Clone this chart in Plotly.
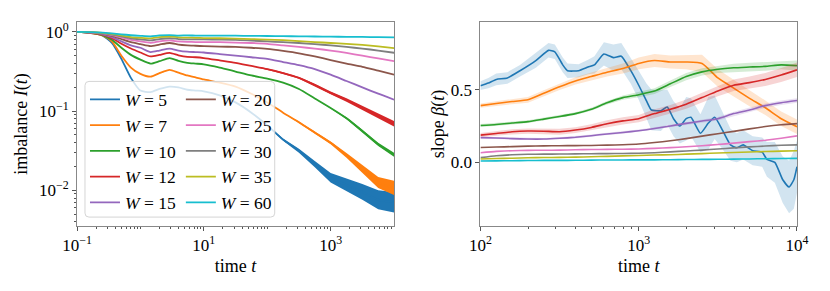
import numpy as np
import plotly.graph_objects as go

# ---------------- data ----------------
W_values = [5, 7, 10, 12, 15, 20, 25, 30, 35, 60]
colors = ['#1f77b4', '#ff7f0e', '#2ca02c', '#d62728', '#9467bd',
          '#8c564b', '#e377c2', '#7f7f7f', '#bcbd22', '#17becf']

# left panel: log10(t) grid and log10(I) for each W
log_t_imb = [-1, -0.8, -0.6, -0.45, -0.3, -0.15, 0, 0.16, 0.3, 0.46, 0.6, 0.74, 0.87,
             1.0, 1.25, 1.5, 1.75, 2.0, 2.25, 2.5, 2.75, 3.0, 3.25, 3.5, 3.75, 4.0]
logI_W5 = [0, -0.012, -0.045, -0.14, -0.34, -0.58, -0.74, -0.76, -0.72, -0.69, -0.70, -0.73, -0.74,
           -0.75, -0.80, -0.89, -1.02, -1.18, -1.36, -1.50, -1.67, -1.84, -1.93, -2.02, -2.12, -2.15]
logI_W7 = [0, -0.012, -0.045, -0.12, -0.30, -0.45, -0.53, -0.565, -0.52, -0.48, -0.515, -0.55, -0.575,
           -0.60, -0.64, -0.69, -0.78, -0.89, -1.02, -1.14, -1.27, -1.40, -1.56, -1.73, -1.90, -1.97]
logI_W10 = [0, -0.01, -0.04, -0.10, -0.20, -0.29, -0.35, -0.40, -0.37, -0.33, -0.365, -0.39, -0.40,
            -0.41, -0.45, -0.50, -0.55, -0.59, -0.64, -0.72, -0.84, -0.96, -1.09, -1.25, -1.42, -1.55]
logI_W12 = [0, -0.008, -0.035, -0.08, -0.15, -0.21, -0.26, -0.31, -0.29, -0.265, -0.295, -0.315, -0.32,
            -0.33, -0.36, -0.39, -0.43, -0.47, -0.52, -0.58, -0.67, -0.77, -0.86, -0.96, -1.06, -1.16]
logI_W15 = [0, -0.007, -0.03, -0.065, -0.12, -0.17, -0.20, -0.255, -0.235, -0.21, -0.235, -0.25, -0.255,
            -0.26, -0.28, -0.30, -0.32, -0.34, -0.38, -0.42, -0.47, -0.54, -0.62, -0.70, -0.78, -0.855]
logI_W20 = [0, -0.006, -0.022, -0.05, -0.09, -0.13, -0.155, -0.18, -0.16, -0.14, -0.16, -0.17, -0.175,
            -0.18, -0.185, -0.19, -0.20, -0.215, -0.24, -0.27, -0.31, -0.355, -0.40, -0.44, -0.49, -0.54]
logI_W25 = [0, -0.005, -0.018, -0.04, -0.07, -0.10, -0.12, -0.138, -0.12, -0.108, -0.12, -0.125, -0.128,
            -0.13, -0.13, -0.135, -0.14, -0.15, -0.17, -0.19, -0.21, -0.235, -0.265, -0.30, -0.335, -0.37]
logI_W30 = [0, -0.004, -0.015, -0.033, -0.055, -0.08, -0.095, -0.108, -0.09, -0.08, -0.09, -0.095, -0.095,
            -0.095, -0.097, -0.10, -0.11, -0.12, -0.13, -0.14, -0.155, -0.17, -0.19, -0.21, -0.235, -0.263]
logI_W35 = [0, -0.003, -0.012, -0.026, -0.045, -0.065, -0.075, -0.082, -0.065, -0.058, -0.068, -0.072, -0.075,
            -0.078, -0.08, -0.085, -0.09, -0.097, -0.105, -0.117, -0.128, -0.14, -0.152, -0.165, -0.183, -0.205]
logI_W60 = [0, -0.002, -0.008, -0.018, -0.03, -0.042, -0.05, -0.056, -0.045, -0.04, -0.046, -0.044, -0.046,
            -0.046, -0.047, -0.048, -0.05, -0.052, -0.054, -0.056, -0.058, -0.06, -0.062, -0.064, -0.066, -0.068]
# half-width (log10 units) of the late-time fluctuations
noise_W5 = [0] * 17 + [0.008, 0.015, 0.025, 0.04, 0.06, 0.08, 0.10, 0.12, 0.13]
noise_W7 = [0] * 19 + [0.008, 0.012, 0.018, 0.03, 0.05, 0.07, 0.09]
noise_W10 = [0] * 21 + [0.008, 0.012, 0.016, 0.02, 0.025]
noise_W12 = [0] * 17 + [0.007, 0.01, 0.012, 0.015, 0.018, 0.022, 0.026, 0.03, 0.035]

# right panel: slope beta(t)
log_t_slope = [2.0, 2.1, 2.2, 2.3, 2.4, 2.5, 2.6, 2.7, 2.8, 2.9, 3.0,
               3.1, 3.2, 3.3, 3.4, 3.5, 3.6, 3.7, 3.8, 3.9, 4.0]
log_t_slope_W5 = [2.0, 2.05, 2.1, 2.17, 2.25, 2.35, 2.43, 2.47, 2.52, 2.55, 2.62, 2.68, 2.72, 2.78,
                  2.84, 2.89, 2.95, 3.0, 3.05, 3.08, 3.14, 3.18, 3.22, 3.26, 3.3, 3.33, 3.39, 3.44,
                  3.48, 3.53, 3.58, 3.62, 3.66, 3.72, 3.78, 3.81, 3.86, 3.91, 3.95, 3.98, 4.0]
beta_W5 = [0.527, 0.545, 0.57, 0.58, 0.63, 0.70, 0.77, 0.76, 0.67, 0.63, 0.63, 0.655, 0.67, 0.745,
           0.72, 0.73, 0.63, 0.53, 0.42, 0.36, 0.355, 0.38, 0.30, 0.25, 0.30, 0.31, 0.20, 0.27,
           0.31, 0.22, 0.12, 0.10, 0.12, 0.08, 0.07, 0.02, 0.0, -0.12, -0.17, -0.12, -0.03]
beta_err_W5 = [0.03, 0.035, 0.04, 0.04, 0.04, 0.05, 0.05, 0.05, 0.05, 0.05, 0.045, 0.05, 0.06, 0.08,
               0.09, 0.09, 0.09, 0.10, 0.12, 0.14, 0.14, 0.12, 0.12, 0.12, 0.15, 0.13, 0.13, 0.18,
               0.15, 0.13, 0.11, 0.10, 0.10, 0.10, 0.10, 0.12, 0.14, 0.16, 0.18, 0.20, 0.18]
beta_W7 = [0.39, 0.405, 0.418, 0.43, 0.475, 0.52, 0.56, 0.59, 0.62, 0.645, 0.68,
           0.70, 0.69, 0.69, 0.68, 0.58, 0.51, 0.44, 0.375, 0.30, 0.245]
beta_err_W7 = [0.015, 0.015, 0.018, 0.02, 0.02, 0.022, 0.025, 0.028, 0.03, 0.035, 0.04,
               0.045, 0.045, 0.05, 0.06, 0.06, 0.055, 0.055, 0.05, 0.05, 0.05]
beta_W10 = [0.253, 0.26, 0.27, 0.28, 0.297, 0.315, 0.335, 0.365, 0.41, 0.445, 0.465,
            0.49, 0.54, 0.59, 0.622, 0.64, 0.65, 0.655, 0.66, 0.67, 0.665]
beta_err_W10 = [0.01, 0.01, 0.01, 0.01, 0.01, 0.01, 0.01, 0.01, 0.012, 0.015, 0.018,
                0.02, 0.022, 0.025, 0.025, 0.025, 0.028, 0.03, 0.03, 0.03, 0.035]
beta_W12 = [0.187, 0.198, 0.21, 0.215, 0.214, 0.21, 0.222, 0.24, 0.265, 0.285, 0.30,
            0.335, 0.365, 0.40, 0.445, 0.49, 0.53, 0.548, 0.57, 0.60, 0.636]
beta_err_W12 = [0.015, 0.016, 0.018, 0.018, 0.02, 0.02, 0.02, 0.022, 0.024, 0.025, 0.025,
                0.03, 0.03, 0.032, 0.034, 0.035, 0.04, 0.042, 0.045, 0.048, 0.05]
beta_W15 = [0.17, 0.167, 0.163, 0.16, 0.16, 0.165, 0.172, 0.183, 0.195, 0.205, 0.217,
            0.232, 0.25, 0.268, 0.284, 0.30, 0.335, 0.36, 0.39, 0.41, 0.425]
beta_err_W15 = [0.006, 0.006, 0.006, 0.007, 0.007, 0.007, 0.008, 0.008, 0.008, 0.009, 0.009,
                0.01, 0.01, 0.011, 0.012, 0.012, 0.013, 0.014, 0.015, 0.015, 0.016]
beta_W20 = [0.102, 0.105, 0.108, 0.111, 0.113, 0.114, 0.115, 0.116, 0.118, 0.121, 0.126,
            0.136, 0.148, 0.163, 0.18, 0.197, 0.213, 0.23, 0.246, 0.258, 0.266]
beta_W25 = [0.066, 0.075, 0.08, 0.082, 0.083, 0.084, 0.086, 0.088, 0.089, 0.09, 0.092,
            0.096, 0.101, 0.107, 0.114, 0.122, 0.132, 0.142, 0.152, 0.166, 0.182]
beta_W30 = [0.032, 0.045, 0.052, 0.055, 0.056, 0.057, 0.058, 0.059, 0.06, 0.061, 0.062,
            0.066, 0.072, 0.078, 0.084, 0.092, 0.099, 0.106, 0.112, 0.117, 0.12]
beta_W35 = [0.023, 0.026, 0.028, 0.031, 0.033, 0.034, 0.036, 0.038, 0.041, 0.044, 0.047,
            0.05, 0.052, 0.056, 0.06, 0.064, 0.068, 0.071, 0.074, 0.077, 0.08]
beta_W60 = [0.009, 0.010, 0.011, 0.012, 0.013, 0.013, 0.014, 0.015, 0.016, 0.016, 0.017,
            0.017, 0.018, 0.019, 0.020, 0.021, 0.022, 0.023, 0.025, 0.026, 0.027]

imbalance = [logI_W5, logI_W7, logI_W10, logI_W12, logI_W15,
             logI_W20, logI_W25, logI_W30, logI_W35, logI_W60]
imb_noise = {0: noise_W5, 1: noise_W7, 2: noise_W10, 3: noise_W12}
slopes = [beta_W5, beta_W7, beta_W10, beta_W12, beta_W15,
          beta_W20, beta_W25, beta_W30, beta_W35, beta_W60]
slope_err = {0: beta_err_W5, 1: beta_err_W7, 2: beta_err_W10, 3: beta_err_W12, 4: beta_err_W15}

left_xticks = [0.1, 10, 1000]
left_xtick_text = ['10<sup>\u22121</sup>', '10<sup>1</sup>', '10<sup>3</sup>']
left_yticks = [0.01, 0.1, 1]
left_ytick_text = ['10<sup>\u22122</sup>', '10<sup>\u22121</sup>', '10<sup>0</sup>']
right_xticks = [100, 1000, 10000]
right_xtick_text = ['10<sup>2</sup>', '10<sup>3</sup>', '10<sup>4</sup>']
right_yticks = [0.0, 0.5]
right_ytick_text = ['0.0', '0.5']


def rgba(hexc, a):
    h = hexc.lstrip('#')
    return 'rgba(%d,%d,%d,%s)' % (int(h[0:2], 16), int(h[2:4], 16), int(h[4:6], 16), a)


FONT = 'Liberation Serif, Times New Roman, Times, serif'
fig = go.Figure()

t_imb = list(10 ** np.array(log_t_imb))
for i, (W, c, logI) in enumerate(zip(W_values, colors, imbalance)):
    if i in imb_noise:
        nz = imb_noise[i]
        up = [10 ** (v + h) for v, h in zip(logI, nz)]
        lo = [10 ** (v - h) for v, h in zip(logI, nz)]
        fig.add_trace(go.Scatter(x=t_imb + t_imb[::-1], y=up + lo[::-1], fill='toself',
                                 fillcolor=c, line=dict(width=0), mode='lines',
                                 showlegend=False, hoverinfo='skip', xaxis='x', yaxis='y'))
    fig.add_trace(go.Scatter(x=t_imb, y=list(10 ** np.array(logI)), mode='lines',
                             line=dict(color=c, width=1.8, shape='spline', smoothing=0.6),
                             name='<i>W</i> = %d' % W,
                             legend='legend' if i < 5 else 'legend2',
                             xaxis='x', yaxis='y'))

for i, (c, beta) in enumerate(zip(colors, slopes)):
    xs = list(10 ** np.array(log_t_slope_W5 if i == 0 else log_t_slope))
    if i in slope_err:
        err = slope_err[i]
        up = [b + e for b, e in zip(beta, err)]
        lo = [b - e for b, e in zip(beta, err)]
        fig.add_trace(go.Scatter(x=xs + xs[::-1], y=up + lo[::-1], fill='toself',
                                 fillcolor=rgba(c, 0.2), line=dict(width=0), mode='lines',
                                 showlegend=False, hoverinfo='skip', xaxis='x2', yaxis='y2'))
    fig.add_trace(go.Scatter(x=xs, y=beta, mode='lines',
                             line=dict(color=c, width=1.6, shape='spline', smoothing=0.5),
                             showlegend=False, xaxis='x2', yaxis='y2'))


def minor_vals(d0, d1, skip):
    out = []
    for d in range(d0, d1 + 1):
        for m in range(1, 10):
            v = m * 10.0 ** d
            if v not in skip:
                out.append(v)
    return out


AX = '#888888'
common = dict(showline=True, mirror=True, linecolor=AX, linewidth=1, showgrid=False,
              zeroline=False, ticks='outside', ticklen=4, tickwidth=1, tickcolor='#555555',
              tickfont=dict(family=FONT, size=17, color='black'))
tfont = dict(family=FONT, size=18, color='black')

# the page body adds an 8px offset, so the figure is 8px smaller and margins shifted
OFF = 8
FW, FH = 830 - OFF, 291 - OFF
L, R, T, B = 76 - OFF, 33, 20 - OFF, 65
pw = FW - L - R
ph = FH - T - B


def px_x(px):
    return (px - OFF - L) / pw


def px_y(py):
    return (FH - B - (py - OFF)) / ph


fig.update_layout(
    width=FW, height=FH, margin=dict(l=L, r=R, t=T, b=B),
    paper_bgcolor='white', plot_bgcolor='white',
    font=dict(family=FONT, size=17, color='black'),
    xaxis=dict(type='log', range=[-1, 4], domain=[0, px_x(393.5)],
               tickvals=left_xticks, ticktext=left_xtick_text,
               minor=dict(ticks='outside', ticklen=2, tickcolor='#555555',
                          tickvals=minor_vals(-1, 3, left_xticks)),
               title=dict(text='time <i>t</i>', font=tfont, standoff=4), anchor='y', **common),
    yaxis=dict(type='log', range=[-2.45, 0.125], domain=[0, 1],
               tickvals=left_yticks, ticktext=left_ytick_text,
               minor=dict(ticks='outside', ticklen=2, tickcolor='#555555',
                          tickvals=minor_vals(-3, 0, left_yticks)),
               title=dict(text='imbalance <i>I</i>(<i>t</i>)', font=tfont, standoff=6),
               anchor='x', **common),
    xaxis2=dict(type='log', range=[2, 4], domain=[px_x(480), 1],
                tickvals=right_xticks, ticktext=right_xtick_text,
                minor=dict(ticks='outside', ticklen=2, tickcolor='#555555',
                           tickvals=minor_vals(2, 3, right_xticks)),
                title=dict(text='time <i>t</i>', font=tfont, standoff=4), anchor='y2', **common),
    yaxis2=dict(range=[-0.438, 0.965], domain=[0, 1],
                tickvals=right_yticks, ticktext=right_ytick_text,
                title=dict(text='slope <i>\u03b2</i>(<i>t</i>)', font=tfont, standoff=1),
                anchor='x2', **common),
    legend=dict(x=px_x(84), y=px_y(80), xanchor='left', yanchor='top',
                bgcolor='rgba(0,0,0,0)', borderwidth=0, itemwidth=30, tracegroupgap=0,
                font=dict(family=FONT, size=17.5, color='black')),
    legend2=dict(x=px_x(180), y=px_y(80), xanchor='left', yanchor='top',
                 bgcolor='rgba(0,0,0,0)', borderwidth=0, itemwidth=30, tracegroupgap=0,
                 font=dict(family=FONT, size=17.5, color='black')),
    showlegend=True,
)

# rounded legend frame (matplotlib style), semi-transparent white
x0, x1 = px_x(84), px_x(274)
y0, y1 = px_y(217), px_y(80)
rx, ry = 4 / pw, 4 / ph
path = (f'M {x0+rx},{y0} L {x1-rx},{y0} Q {x1},{y0} {x1},{y0+ry} L {x1},{y1-ry} '
        f'Q {x1},{y1} {x1-rx},{y1} L {x0+rx},{y1} Q {x0},{y1} {x0},{y1-ry} '
        f'L {x0},{y0+ry} Q {x0},{y0} {x0+rx},{y0} Z')
fig.add_shape(type='path', path=path, xref='paper', yref='paper', layer='above',
              fillcolor='rgba(255,255,255,0.8)', line=dict(color='#d5d5d5', width=1))

fig.write_html('out.html')
